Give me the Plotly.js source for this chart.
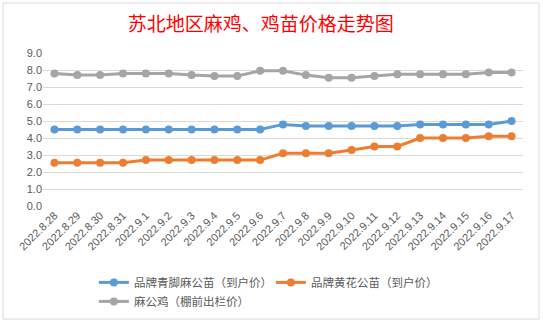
<!DOCTYPE html>
<html>
<head>
<meta charset="utf-8">
<script src="https://cdn.plot.ly/plotly-3.0.1.min.js"></script>
<style>html,body{margin:0;padding:0;background:#fff;}#chart{width:543px;height:322px;}</style>
</head>
<body>
<div id="chart"></div>
<script>
var categories = ["2022.8.28","2022.8.29","2022.8.30","2022.8.31","2022.9.1","2022.9.2","2022.9.3","2022.9.4","2022.9.5","2022.9.6","2022.9.7","2022.9.8","2022.9.9","2022.9.10","2022.9.11","2022.9.12","2022.9.13","2022.9.14","2022.9.15","2022.9.16","2022.9.17"];
var qingjiao = [4.5,4.5,4.5,4.5,4.5,4.5,4.5,4.5,4.5,4.5,4.8,4.7,4.7,4.7,4.7,4.7,4.8,4.8,4.8,4.8,5.0];
var huanghua = [2.55,2.55,2.55,2.55,2.7,2.7,2.7,2.7,2.7,2.7,3.1,3.1,3.1,3.3,3.5,3.5,4.0,4.0,4.0,4.1,4.1];
var magongji = [7.8,7.7,7.7,7.8,7.8,7.8,7.7,7.65,7.65,7.95,7.95,7.7,7.55,7.55,7.65,7.75,7.75,7.75,7.75,7.85,7.85];
var seriesNames = ["品牌青脚麻公苗（到户价）","品牌黄花公苗（到户价）","麻公鸡（棚前出栏价）"];
var yTicks = [0,1,2,3,4,5,6,7,8,9];
var yTickText = yTicks.map(function(v){return v.toFixed(1);});

var colors = ["#5B9BD5","#ED7D31","#A5A5A5"];
var font = "Liberation Sans, Noto Sans CJK SC, sans-serif";
function mk(y, name, c){
  return {x: categories, y: y, name: name, type: "scatter", mode: "lines+markers",
    line: {color: c, width: 3}, marker: {color: c, size: 8}, hoverinfo: "x+y"};
}
var data = [mk(qingjiao, seriesNames[0], colors[0]), mk(huanghua, seriesNames[1], colors[1]), mk(magongji, seriesNames[2], colors[2])];

var layout = {
  width: 543, height: 322,
  margin: {l: 43, r: 20, t: 53, b: 116, autoexpand: false},
  paper_bgcolor: "#fff", plot_bgcolor: "#fff",
  title: {text: "苏北地区麻鸡、鸡苗价格走势图", font: {family: "Noto Sans CJK SC, sans-serif", size: 19, color: "#FF0000"}, x: 0.48, xanchor: "center", y: 0.925, yanchor: "middle"},
  xaxis: {type: "category", range: [-0.5, 20.5], tickangle: -45, showgrid: false, zeroline: false, showline: false, ticks: "",
    tickfont: {family: font, size: 11, color: "#595959"}, fixedrange: true, automargin: false},
  yaxis: {range: [0, 9], tickvals: yTicks, ticktext: yTickText, showgrid: true, gridcolor: "#D9D9D9", gridwidth: 1, zeroline: false, showline: false, ticks: "",
    tickfont: {family: font, size: 11, color: "#595959"}, fixedrange: true, automargin: false},
  showlegend: true,
  legend: {orientation: "h", x: 0.106, xanchor: "left", yref: "container", y: 0.168, yanchor: "top", font: {family: font, size: 11.5, color: "#595959"},
    itemwidth: 30, entrywidth: 132, tracegroupgap: 0, bgcolor: "rgba(0,0,0,0)"},
  shapes: [
    {type: "rect", xref: "paper", yref: "paper", x0: -0.0833, x1: 1.0333, y0: -0.739, y1: 1.327, line: {color: "#D9D9D9", width: 1}}
  ]
};
Plotly.newPlot("chart", data, layout, {displayModeBar: false, staticPlot: true});
</script>
</body>
</html>
